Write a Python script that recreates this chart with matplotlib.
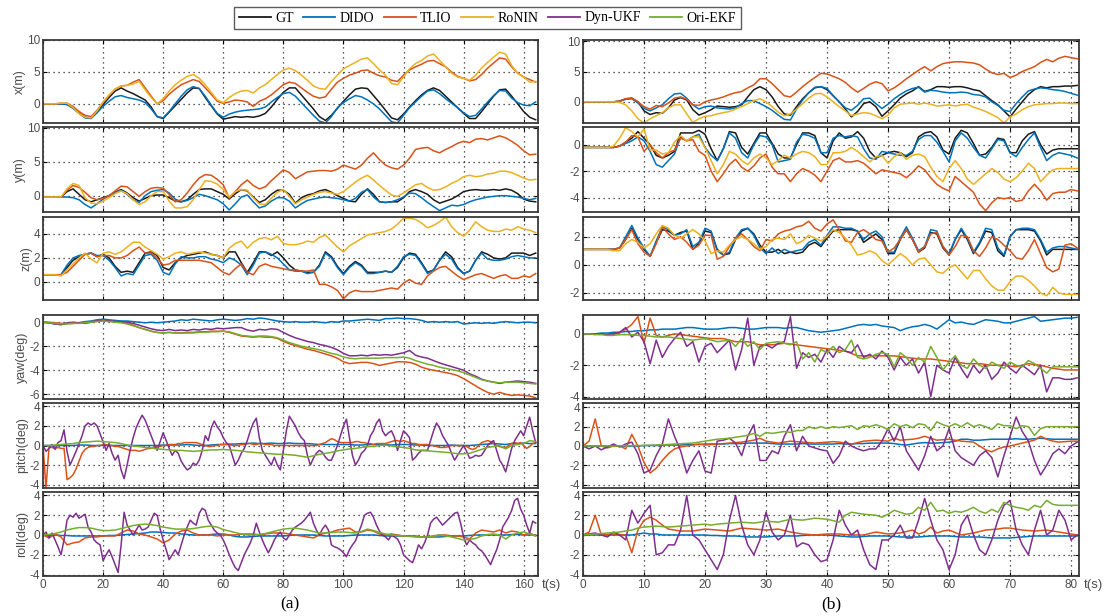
import numpy as np
import matplotlib
matplotlib.use("Agg")
import matplotlib.pyplot as plt
from matplotlib.lines import Line2D

# sampling step (s) of the arrays below
STEP_A = 2     # sequence (a), smooth curves
STEP_A1 = 1    # sequence (a), noisy curves
STEP_B = 1     # sequence (b)

# ---------------- sequence (a) : positions ----------------
xa_gt = [0, 0, 0, 0, -0.1, -0.6, -1.4, -2.1, -2.2, -1.2,
         -0.1, 1.0, 2.0, 2.5, 2.0, 1.6, 1.1, 0.6, -0.5, -2.0,
         -2.3, -1.3, -0.3, 0.7, 1.7, 2.5, 2.4, 1.0, -0.3, -1.6,
         -2.4, -2.2, -2.0, -2.1, -2.0, -2.1, -1.9, -1.5, -0.5, 0.7,
         1.8, 2.5, 2.5, 1.4, 0.3, -0.8, -2.0, -2.6, -1.8, -0.7,
         0.4, 1.4, 2.3, 2.5, 2.4, 1.3, 0.2, -1.0, -2.2, -2.5,
         -1.6, -0.5, 0.5, 1.4, 2.1, 2.5, 2.1, 1.2, 0.3, -0.6,
         -1.5, -2.3, -2.3, -1.2, 0.0, 1.2, 2.2, 2.3, 1.2, 0.0,
         -1.2, -2.1, -2.5]
xa_dido = [0, 0, 0, 0, -0.1, -0.7, -1.5, -2.2, -2.3, -1.4,
           -0.4, 0.4, 1.1, 1.3, 1.0, 0.8, 0.6, 0.2, -0.8, -2.0,
           -2.2, -1.2, 0.0, 1.2, 2.2, 2.7, 2.4, 1.2, -0.2, -1.5,
           -2.1, -1.6, -1.3, -1.1, -1.0, -0.9, -0.8, -0.5, 0.3, 1.0,
           1.6, 1.8, 1.2, 0.2, -0.8, -1.8, -2.7, -3.0, -2.0, -0.6,
           0.2, 0.8, 1.3, 1.1, 0.6, 0.0, -0.8, -1.8, -2.8, -3.0,
           -1.8, -0.6, 0.3, 1.2, 2.0, 2.2, 1.6, 0.8, 0.1, -0.6,
           -1.4, -2.0, -1.8, -0.8, 0.3, 1.3, 2.1, 2.0, 0.9, 0.2,
           -0.2, -0.3, 0.3]
xa_tlio = [0, 0, 0, 0.1, 0.1, -0.4, -1.2, -1.8, -2.0, -1.0,
           0.2, 1.3, 2.3, 2.8, 2.9, 3.4, 3.8, 2.5, 1.2, 0.0,
           0.5, 1.5, 2.3, 3.0, 3.4, 3.8, 3.5, 2.5, 1.5, 0.4,
           0.1, 0.3, 0.6, 0.5, 0.3, -0.4, 0.4, 0.8, 1.4, 2.2,
           3.0, 3.4, 3.2, 2.5, 1.8, 1.2, 0.9, 1.1, 2.3, 3.4,
           4.0, 4.5, 4.8, 5.2, 5.3, 4.8, 4.4, 4.2, 3.7, 3.5,
           4.5, 5.3, 5.8, 6.2, 6.7, 6.8, 6.3, 5.8, 5.0, 4.3,
           4.0, 3.6, 3.8, 4.6, 5.6, 6.4, 7.2, 7.0, 5.8, 4.8,
           4.2, 3.8, 3.4]
xa_ronin = [0, 0, 0, 0.1, 0.1, -0.6, -1.5, -2.1, -2.2, -1.1,
            0.3, 1.4, 2.3, 2.8, 2.9, 3.1, 3.5, 2.2, 1.0, 0.0,
            0.8, 2.0, 3.0, 3.7, 4.3, 4.6, 4.0, 3.0, 1.8, 0.6,
            0.2, 1.0, 1.6, 2.0, 2.1, 1.7, 2.5, 3.0, 3.8, 4.6,
            5.3, 5.6, 5.2, 4.5, 3.7, 2.8, 2.4, 2.3, 3.5, 4.5,
            5.5, 6.0, 6.5, 7.0, 7.2, 6.3, 5.3, 4.5, 3.2, 3.0,
            4.2, 5.5, 6.3, 6.8, 7.5, 7.8, 6.8, 5.8, 4.8, 4.2,
            4.0, 3.7, 4.5, 5.6, 6.5, 7.3, 8.1, 7.8, 6.0, 4.8,
            4.2, 3.4, 3.5]

ya_gt = [-0.2, -0.2, -0.2, -0.2, 0.6, 1.0, 0.2, -0.6, -0.9, -0.6,
         -0.3, 0.0, 0.5, 0.9, 0.4, -0.3, -0.8, -0.4, 0.0, 0.1,
         0.1, -0.3, -0.8, -0.9, -0.6, 0.2, 0.9, 1.0, 1.0, 0.6,
         0.2, -0.5, 0.3, 0.9, 0.7, -0.2, -1.0, -0.6, 0.2, 0.8,
         0.8, 0.2, -1.1, -0.3, 0.1, 0.3, 0.7, 0.9, 0.5, 0.0,
         -0.4, -0.8, -0.9, 0.2, 1.0, 0.2, -0.9, -1.0, -0.9, -0.9,
         -0.3, 0.6, 0.9, 0.6, 0.2, -0.6, -1.1, -0.8, -0.5, 0.0,
         0.6, 0.8, 0.9, 0.8, 0.8, 0.9, 0.8, 1.0, 0.8, 0.3,
         -0.5, -0.8, -0.9]
ya_dido = [-0.2, -0.2, -0.2, -0.2, -0.2, -0.3, -0.6, -1.3, -1.8, -1.2,
           -0.5, 0.0, 0.5, 0.8, 0.2, -0.6, -1.0, 0.0, 0.6, 0.8,
           0.9, 0.4, -0.5, -0.9, -0.7, -0.3, 0.2, 0.0, -0.3, -0.6,
           -1.2, -2.1, -1.2, -0.2, 0.1, -0.9, -1.8, -1.5, -0.8, -0.3,
           -0.3, -0.8, -1.8, -1.2, -0.7, -0.5, -0.3, -0.2, -0.3, -0.4,
           -0.6, -0.8, -0.4, 0.5, 0.9, -0.2, -0.9, -1.0, -0.9, -0.6,
           -0.2, 0.4, 0.3, -0.3, -1.0, -1.6, -2.2, -1.8, -1.4, -1.5,
           -1.3, -0.9, -0.6, -0.4, -0.2, -0.1, 0.0, 0.0, -0.1, -0.2,
           -0.4, -0.6, -0.4]
ya_tlio = [-0.2, -0.2, -0.2, -0.2, 0.8, 1.5, 1.2, 0.5, -0.3, -0.6,
           -0.4, 0.0, 0.7, 1.4, 1.3, 0.6, -0.1, 0.6, 1.1, 1.2,
           1.1, 0.2, -0.9, -0.6, 0.4, 1.6, 2.6, 3.1, 3.0, 2.4,
           1.6, -0.4, 0.6, 1.6, 2.3, 1.5, 1.0, 1.3, 2.2, 3.0,
           3.8, 3.4, 2.5, 3.0, 3.5, 3.6, 3.7, 3.7, 3.6, 3.9,
           4.5, 4.2, 3.9, 4.5, 5.5, 6.3, 5.3, 4.5, 4.1, 3.9,
           4.5, 5.5, 6.8, 7.0, 7.1, 6.6, 6.3, 6.8, 7.2, 7.7,
           8.0, 7.8, 8.3, 8.4, 8.2, 8.5, 8.8, 8.5, 8.0, 7.4,
           6.6, 6.0, 6.1]
ya_ronin = [-0.2, -0.2, -0.2, -0.2, 1.0, 1.8, 1.5, -0.3, -1.1, -1.2,
            -0.8, -0.3, 0.3, 0.7, 0.3, -0.6, -1.3, -0.9, 0.0, 0.6,
            0.6, -0.8, -1.8, -1.8, -1.6, -0.6, 0.9, 2.2, 2.1, 1.7,
            0.9, -0.2, 0.6, 0.9, 0.8, -0.3, -1.2, -1.3, -0.4, 0.5,
            0.9, -0.1, -1.2, -0.6, -0.2, 0.2, 0.5, 0.6, 0.4, 0.2,
            0.6, 1.3, 2.0, 2.6, 3.0, 2.3, 1.5, 0.8, 0.1, -0.1,
            0.4, 1.0, 1.6, 1.8, 1.2, 0.8, 0.9, 1.3, 1.8, 2.2,
            2.8, 3.0, 2.8, 2.9, 3.2, 3.3, 3.6, 3.6, 3.4, 3.0,
            2.6, 2.3, 2.4]

za_gt = [0.6, 0.6, 0.6, 0.6, 1.2, 1.8, 2.1, 2.3, 2.4, 2.1,
         2.3, 2.0, 1.3, 0.8, 0.9, 0.8, 1.6, 2.4, 2.5, 2.2,
         1.2, 1.0, 1.6, 2.0, 2.2, 2.3, 2.4, 2.5, 2.3, 2.2,
         2.0, 2.5, 2.5, 1.6, 0.8, 1.6, 2.5, 2.5, 2.2, 2.5,
         2.0, 1.4, 1.0, 0.9, 0.8, 0.8, 1.4, 2.5, 2.1, 1.3,
         0.7, 1.3, 1.7, 1.4, 0.8, 0.8, 0.8, 0.9, 0.8, 1.2,
         2.0, 2.4, 2.3, 1.6, 0.8, 1.0, 1.8, 2.5, 2.1, 1.2,
         0.7, 0.9, 1.8, 2.5, 2.3, 2.0, 1.9, 2.0, 2.4, 2.4,
         2.4, 2.2, 2.4]
za_dido = [0.6, 0.6, 0.6, 0.6, 1.4, 2.0, 2.2, 2.3, 2.4, 2.2,
           2.2, 1.8, 1.2, 0.5, 0.7, 0.6, 1.4, 2.2, 2.3, 1.8,
           0.8, 0.6, 1.5, 2.1, 2.0, 2.0, 2.1, 2.1, 1.9, 1.8,
           1.6, 2.0, 1.8, 1.4, 0.6, 1.4, 2.4, 2.5, 2.3, 2.0,
           1.5, 1.0, 0.9, 0.9, 0.7, 0.8, 1.3, 2.4, 2.0, 1.2,
           0.6, 1.2, 1.6, 1.3, 0.7, 0.7, 0.8, 0.9, 0.8, 1.3,
           2.1, 2.3, 2.2, 1.5, 0.7, 1.0, 1.8, 2.3, 1.9, 1.1,
           0.7, 0.9, 1.8, 2.4, 1.9, 1.8, 1.8, 1.9, 2.1, 2.2,
           2.1, 2.0, 2.0]
za_tlio = [0.6, 0.6, 0.6, 0.6, 0.8, 1.3, 1.8, 2.3, 2.4, 2.1,
           2.2, 2.2, 2.0, 2.0, 2.2, 2.6, 2.9, 2.4, 2.4, 2.0,
           1.4, 1.5, 1.8, 1.8, 1.8, 1.8, 1.8, 1.7, 1.6, 1.2,
           0.8, 0.6, 1.1, 1.5, 0.8, 0.6, 1.3, 1.5, 1.3, 1.2,
           1.1, 1.0, 1.0, 0.9, 0.9, 1.0, -0.2, -0.2, -0.4, -0.7,
           -1.4, -0.9, -0.7, -0.8, -0.8, -0.8, -0.7, -0.6, -0.5, -0.6,
           -0.1, 0.2, -0.1, -0.2, 0.5, 0.9, 1.2, 1.3, 0.9, 0.5,
           0.2, 0.4, 0.6, 0.7, 0.5, 0.3, 0.5, 0.6, 0.3, 0.3,
           0.5, 0.4, 0.7]
za_ronin = [0.6, 0.6, 0.6, 0.5, 1.0, 1.5, 2.0, 2.4, 1.9, 1.6,
            2.4, 2.5, 2.3, 2.5, 2.9, 3.3, 3.3, 2.9, 2.6, 2.3,
            1.9, 2.1, 2.4, 2.5, 2.3, 2.4, 2.5, 2.4, 2.3, 2.2,
            2.0, 2.8, 3.2, 3.4, 2.8, 3.3, 3.6, 3.7, 3.5, 3.8,
            3.2, 3.1, 3.1, 3.2, 3.4, 3.3, 3.7, 3.9, 3.4, 2.9,
            2.5, 3.0, 3.3, 3.6, 3.9, 4.0, 4.1, 4.2, 4.4, 4.8,
            5.3, 5.3, 5.2, 4.9, 4.5, 4.7, 5.0, 5.4, 4.6, 4.1,
            3.8, 4.3, 5.0, 4.6, 4.3, 4.2, 4.2, 4.4, 4.3, 4.6,
            4.4, 4.3, 4.1]

# ---------------- sequence (a) : orientation ----------------
yaw_a_dido = [0.0, -0.05, -0.15, -0.2, -0.05, 0.0, -0.05, 0.05, 0.1, 0.2,
              0.25, 0.2, 0.15, 0.1, 0.1, 0.05, 0.0, -0.05, 0.0, -0.05,
              0.0, 0.05, 0.1, 0.2, 0.15, 0.25, 0.2, 0.15, 0.1, 0.2,
              0.25, 0.2, 0.15, 0.2, 0.3, 0.25, 0.35, 0.3, 0.2, 0.1,
              0.05, 0.0, 0.05, 0.0, 0.0, 0.05, 0.0, -0.05, 0.05, 0.0,
              0.1, 0.1, 0.15, 0.2, 0.25, 0.2, 0.15, 0.3, 0.3, 0.35,
              0.3, 0.3, 0.25, 0.15, 0.0, 0.05, 0.0, 0.05, 0.0, 0.05,
              -0.15, -0.1, -0.05, -0.1, -0.05, -0.1, 0.0, 0.05, 0.0, -0.05,
              0.0, 0.0, -0.05]
yaw_a_tlio = [0.0, 0.0, -0.05, -0.1, -0.1, -0.05, -0.05, 0.0, 0.05, 0.1,
              0.15, 0.1, 0.05, 0.0, -0.1, -0.25, -0.45, -0.6, -0.75, -0.85,
              -0.9, -0.85, -0.9, -0.9, -0.85, -0.85, -0.8, -0.8, -0.75, -0.75,
              -0.75, -0.85, -1.0, -1.15, -1.2, -1.25, -1.2, -1.25, -1.25, -1.35,
              -1.6, -1.8, -1.95, -2.1, -2.25, -2.35, -2.5, -2.65, -2.8, -3.0,
              -3.3, -3.45, -3.4, -3.35, -3.35, -3.45, -3.6, -3.5, -3.4, -3.3,
              -3.3, -3.35, -3.5, -3.75, -3.9, -4.0, -4.1, -4.2, -4.3, -4.45,
              -4.7, -5.0, -5.3, -5.6, -5.85, -6.0, -5.85, -6.0, -6.1, -6.05,
              -6.1, -6.15, -6.3]
yaw_a_ukf = [0.0, -0.05, -0.15, -0.2, -0.1, -0.1, -0.05, -0.1, 0.0, 0.1,
             0.15, 0.1, 0.05, 0.05, 0.0, -0.1, -0.25, -0.4, -0.55, -0.65,
             -0.7, -0.6, -0.7, -0.65, -0.7, -0.6, -0.65, -0.55, -0.6, -0.5,
             -0.55, -0.5, -0.45, -0.45, -0.65, -0.75, -0.6, -0.65, -0.55, -0.6,
             -0.85, -1.1, -1.3, -1.45, -1.6, -1.7, -1.85, -1.95, -2.1, -2.3,
             -2.6, -2.8, -2.8, -2.75, -2.8, -2.7, -2.75, -2.7, -2.75, -2.65,
             -2.55, -2.35, -2.75, -2.9, -3.0, -3.2, -3.4, -3.55, -3.7, -3.85,
             -4.0, -4.3, -4.5, -4.75, -4.9, -5.0, -5.1, -5.0, -4.95, -4.9,
             -4.95, -5.0, -5.1]
yaw_a_ekf = [0.0, -0.05, -0.1, -0.15, -0.15, -0.1, -0.1, -0.05, 0.0, 0.05,
             0.1, 0.05, 0.0, -0.05, -0.15, -0.3, -0.45, -0.6, -0.75, -0.85,
             -0.9, -0.85, -0.9, -0.9, -0.9, -0.9, -0.85, -0.85, -0.8, -0.8,
             -0.75, -0.8, -0.95, -1.1, -1.15, -1.2, -1.15, -1.15, -1.2, -1.3,
             -1.5, -1.7, -1.85, -2.0, -2.1, -2.2, -2.3, -2.45, -2.6, -2.7,
             -2.9, -3.0, -3.05, -3.0, -3.0, -3.0, -3.0, -2.95, -2.95, -2.95,
             -2.9, -3.0, -3.2, -3.35, -3.5, -3.6, -3.75, -3.85, -3.95, -4.05,
             -4.2, -4.4, -4.6, -4.8, -4.9, -5.0, -5.05, -5.0, -5.0, -5.0,
             -5.05, -5.1, -5.15]

pitch_a_dido = [0.0, 0.0, 0.0, 0.0, 0.0, 0.0, 0.05, 0.05, 0.0, 0.0,
                0.0, 0.0, 0.0, 0.0, 0.0, 0.0, 0.0, 0.0, 0.0, 0.0,
                0.05, 0.05, 0.05, 0.05, 0.1, 0.05, 0.0, 0.0, 0.05, 0.1,
                0.1, 0.15, 0.15, 0.2, 0.2, 0.25, 0.2, 0.2, 0.25, 0.2,
                0.2, 0.25, 0.2, 0.2, 0.2, 0.15, 0.1, 0.1, 0.1, 0.1,
                0.1, 0.1, 0.05, 0.05, 0.1, 0.1, 0.1, 0.1, 0.05, 0.1,
                0.1, 0.1, 0.05, 0.05, 0.0, 0.0, 0.0, 0.0, 0.05, 0.0,
                0.0, 0.0, 0.05, 0.1, 0.15, 0.2, 0.15, 0.1, 0.2, 0.2,
                0.25, 0.2, 0.2]
pitch_a_tlio = [0.0, -4.3, -0.2, -0.2, -0.3, -0.2, -0.3, -0.3, -3.5, -3.3,
                -3.0, -2.4, -1.6, -0.8, -0.4, -0.2, -0.1, -0.1, 0.0, 0.0,
                0.1, 0.1, 0.0, 0.0, -0.1, -0.1, -0.2, -0.3, -0.4, -0.5,
                -0.5, -0.5, -0.6, -0.5, -0.4, -0.3, -0.3, -0.2, -0.1, -0.1,
                0.0, 0.0, 0.1, 0.1, 0.1, 0.2, 0.2, 0.3, 0.3, 0.3,
                0.3, 0.3, 0.2, 0.1, 0.0, -0.1, -0.1, 0.0, 0.0, 0.1,
                0.1, 0.1, 0.1, 0.0, 0.0, 0.0, 0.1, 0.1, 0.2, 0.2,
                0.1, 0.1, 0.2, 0.2, 0.1, 0.1, 0.1, 0.0, 0.0, 0.0,
                0.0, 0.0, 0.0, 0.0, 0.0, 0.0, 0.0, 0.0, 0.0, 0.0,
                0.0, 0.0, 0.1, 0.2, 0.3, 0.5, 0.7, 0.6, 0.4, 0.3,
                0.3, 0.3, 0.3, 0.3, 0.4, 0.4, 0.3, 0.3, 0.2, 0.2,
                0.1, 0.2, 0.2, 0.2, 0.2, 0.3, 0.4, 0.5, 0.5, 0.4,
                0.5, 0.4, 0.3, 0.2, 0.2, 0.1, 0.1, 0.1, 0.1, 0.0,
                0.0, -0.1, -0.2, -0.2, -0.2, -0.1, 0.0, 0.0, 0.0, 0.0,
                0.0, -0.1, -0.3, -0.4, -0.3, 0.0, 0.3, 0.4, 0.5, 0.4,
                0.2, 0.0, -0.1, -0.2, -0.2, 0.0, 0.2, 0.3, 0.2, 0.3,
                0.0, -0.3, -0.1, 0.2, 0.3]
pitch_a_ukf = [0.0, -0.6, -0.3, 0.1, -0.4, 0.3, 0.5, 1.6, -0.6, -2.0,
               -1.3, -0.6, 0.2, 1.0, 2.0, 2.3, 2.1, 2.3, 2.0, 1.2,
               0.4, -0.5, 0.2, -0.8, -1.5, -1.0, -2.5, -3.4, -2.0, -0.5,
               0.8, 1.8, 2.5, 3.1, 2.6, 1.8, 1.0, 0.2, -0.5, 0.4,
               1.3, 0.5, -0.3, -1.0, -0.5, -0.8, -1.6, -2.1, -2.5, -2.3,
               -1.8, -2.0, -1.5, -0.5, 1.0, 0.5, 1.8, 2.5, 1.9, 1.5,
               0.8, 0.3, 0.0, -1.0, -2.0, -1.5, -0.8, -0.3, 0.5, 1.5,
               2.3, 2.8, 0.8, -0.5, -1.0, -1.5, -2.0, -1.2, -2.0, -2.5,
               -0.5, 1.5, 3.0, 2.5, 2.0, 1.3, 0.8, 0.5, -1.0, -2.0,
               -1.3, -0.8, -0.5, -0.7, -1.2, -1.5, -1.5, -0.8, 0.0, 1.0,
               2.0, 2.7, 0.8, -1.0, -2.0, -1.5, -0.8, -0.5, 0.0, 1.0,
               1.5, 2.3, 2.7, 1.5, 1.0, 1.3, 1.5, 0.8, -0.5, 0.5,
               1.5, 1.2, 0.8, -1.5, -1.2, -0.8, -0.5, -0.5, -0.5, 0.5,
               1.5, 2.3, 1.8, 1.0, 0.5, 0.0, -0.8, -1.5, -1.0, -0.5,
               0.0, -0.6, -1.3, -1.2, -1.0, -1.1, -1.0, -0.5, 0.0, 0.3,
               0.5, -0.5, -1.5, -2.0, -2.7, -1.5, -0.3, 0.5, 1.0, 1.5,
               1.0, 2.0, 2.9, 1.5, 0.3]
pitch_a_ekf = [0.0, 0.0, 0.05, 0.1, 0.15, 0.2, 0.3, 0.35, 0.4, 0.45,
               0.4, 0.35, 0.3, 0.2, 0.05, -0.05, -0.1, -0.2, -0.25, -0.35,
               -0.4, -0.45, -0.5, -0.5, -0.55, -0.6, -0.55, -0.5, -0.45, -0.45,
               -0.4, -0.45, -0.5, -0.55, -0.65, -0.7, -0.75, -0.8, -0.85, -0.9,
               -0.9, -0.95, -1.0, -1.1, -1.2, -1.05, -0.9, -0.8, -0.7, -0.55,
               -0.45, -0.35, -0.3, -0.2, -0.1, -0.1, 0.0, 0.05, -0.05, -0.15,
               -0.2, -0.3, -0.45, -0.5, -0.55, -0.6, -0.65, -0.7, -0.75, -0.85,
               -0.85, -0.8, -0.6, -0.4, -0.2, -0.1, 0.0, -0.35, 0.0, 0.1,
               0.2, 0.5, 0.4]

roll_a_dido = [0.0, 0.0, 0.0, -0.05, -0.05, -0.1, -0.1, -0.1, -0.1, -0.1,
               -0.1, -0.05, -0.05, 0.0, 0.05, 0.1, 0.15, 0.2, 0.3, 0.3,
               0.25, 0.2, 0.2, 0.1, 0.05, 0.0, 0.0, 0.0, 0.05, 0.1,
               0.1, 0.0, -0.15, -0.2, -0.2, -0.15, -0.1, -0.1, -0.1, -0.1,
               -0.1, -0.05, 0.0, 0.0, 0.0, 0.0, -0.05, -0.1, -0.1, -0.1,
               -0.1, -0.05, 0.0, 0.0, 0.0, 0.0, -0.05, -0.1, -0.1, -0.1,
               -0.1, -0.1, -0.15, -0.2, -0.2, -0.2, -0.2, -0.15, -0.1, -0.1,
               -0.1, -0.05, 0.0, 0.0, 0.0, 0.0, 0.0, 0.0, 0.05, 0.05,
               0.0, 0.0, 0.0]
roll_a_tlio = [0.0, -0.3, 0.1, -0.2, -1.0, -0.8, -0.7, -0.3, -0.2, -0.2,
               -0.1, -0.1, -0.1, 0.2, 0.5, 0.4, 0.1, 0.0, -0.2, -0.4,
               -0.8, -0.5, 0.1, 0.4, 0.5, 0.2, 0.0, 0.0, 0.0, -0.1,
               0.0, 0.0, 0.0, 0.1, 0.1, 0.1, 0.0, 0.1, 0.2, 0.2,
               0.2, 0.1, 0.0, -0.1, -0.2, -0.3, 0.0, 0.2, 0.3, 0.5,
               0.6, 0.7, 0.3, 0.3, 0.5, 0.4, 0.1, 0.0, 0.1, 0.0,
               -0.1, -0.1, -0.1, -0.2, -0.2, -0.1, 0.0, 0.0, -0.1, -0.1,
               -0.2, -0.4, 0.2, 0.5, 0.4, 0.3, 0.5, 0.2, 0.4, 0.3,
               0.0, 0.2, -0.1]
roll_a_ukf = [0.0, 0.3, -0.3, 0.2, -0.5, -1.2, -2.0, -0.5, 1.5, 2.0,
              1.8, 2.2, 1.7, 1.9, 2.1, 0.8, 0.3, -0.5, -0.8, -1.0,
              -2.6, -2.0, -1.5, -2.2, -3.0, -3.8, -1.0, 2.3, 1.0, 0.5,
              0.0, 0.5, 1.0, 0.5, 0.6, 0.8, 1.5, 2.2, 2.0, 0.6,
              -0.5, -1.5, -2.5, -2.0, -1.5, -2.0, -1.0, 0.0, 0.8, 1.5,
              1.2, 1.0, 2.2, 2.7, 2.5, 1.5, 1.0, 0.5, 0.2, 0.0,
              -0.5, -1.2, -2.0, -2.7, -3.3, -3.6, -2.8, -2.0, -1.4, -0.8,
              0.0, 1.2, 0.3, -0.5, -1.2, -1.8, -1.2, -0.5, 0.0, 0.3,
              -0.3, -0.5, 0.0, 0.5, 0.8, 1.0, 1.2, 1.5, 1.9, 2.3,
              1.2, 0.5, 0.0, 0.6, 1.0, 0.5, -1.0, -1.2, -1.3, -1.5,
              -1.8, -2.2, -1.5, -1.0, -0.6, 0.2, 1.0, 2.0, 2.2, 2.3,
              1.8, 1.0, 0.4, 0.0, -0.2, -0.5, 0.0, -0.2, -0.4, -1.0,
              -2.0, -2.3, -2.6, -2.8, -2.0, -1.0, -1.4, -0.8, 0.0, 1.2,
              1.6, 1.8, 1.4, 1.0, 1.3, 1.6, 1.9, 2.2, 2.3, 1.2,
              -0.2, -1.0, -0.5, -0.8, -1.0, -1.4, -1.6, -2.0, -2.5, -3.0,
              -2.2, -1.5, -0.5, 0.8, 1.3, 1.8, 2.5, 3.5, 3.7, 2.6,
              2.0, 1.0, 0.2, 1.4, 1.2]
roll_a_ekf = [0.0, 0.05, 0.15, 0.3, 0.5, 0.65, 0.75, 0.75, 0.7, 0.55,
              0.45, 0.45, 0.5, 0.65, 0.8, 0.95, 1.05, 1.1, 1.05, 0.95,
              0.8, 0.7, 0.6, 0.6, 0.6, 0.65, 0.75, 0.85, 0.9, 0.8,
              0.55, 0.4, 0.25, 0.1, 0.0, 0.0, 0.05, 0.15, 0.3, 0.45,
              0.6, 0.65, 0.7, 0.6, 0.5, 0.35, 0.2, 0.2, 0.25, 0.3,
              0.3, 0.25, 0.2, 0.35, 0.6, 0.45, 0.25, 0.1, 0.0, -0.05,
              -0.1, -0.15, -0.2, -0.2, -0.2, -0.1, 0.0, -0.1, -0.2, -0.35,
              -0.5, -0.45, -0.35, -0.1, 0.05, 0.1, 0.0, -0.4, 0.0, 0.2,
              0.3, 0.1, -0.1]

# ---------------- sequence (b) : positions ----------------
xb_gt = [0, 0, 0, 0, 0, 0, 0.1, 0.5, 0.6, 0.0,
         -1.5, -2.1, -1.8, -1.9, -1.0, 0.3, 0.7, 0.3, -1.3, -2.2,
         -1.8, -1.3, -0.7, -0.8, -0.9, -0.8, -0.5, 0.8, 2.0, 2.5,
         2.0, 0.8, -0.8, -2.0, -2.2, -0.8, 0.5, 1.5, 2.3, 2.5,
         2.0, 1.0, 0.0, -1.2, -2.5, -1.6, -0.3, 0.0, -0.8, -2.4,
         -1.5, -0.5, 0.6, 1.3, 1.8, 2.5, 1.7, 2.0, 2.5, 2.5,
         2.4, 2.5, 2.5, 2.3, 2.0, 1.8, 1.0, 0.2, -0.5, -1.5,
         -2.5, -1.2, 0.0, 1.2, 2.0, 2.5, 2.3, 2.5, 2.5, 2.6,
         2.6, 2.7]
xb_dido = [0, 0, 0, 0, 0, 0, 0.1, 0.4, 0.5, -0.2,
           -1.1, -1.5, -1.0, -0.5, 0.5, 1.3, 1.4, 0.6, -0.5, -1.2,
           -0.8, -0.7, -1.0, -1.1, -1.2, -1.0, -0.3, 0.2, 0.2, -0.3,
           -0.8, -1.4, -2.2, -2.9, -3.0, -1.2, 0.3, 1.5, 2.4, 2.5,
           2.2, 1.0, 0.0, -1.0, -1.4, -0.6, 0.5, 0.6, -0.3, -1.1,
           -0.4, 0.5, 1.2, 1.8, 2.2, 2.4, 1.6, 1.9, 1.8, 1.6,
           1.5, 1.5, 1.6, 1.5, 1.2, 1.1, 0.8, 0.0, -0.6, -1.4,
           -1.6, -0.3, 0.8, 1.8, 2.1, 2.3, 2.2, 2.0, 1.9, 1.7,
           1.4, 1.1]
xb_tlio = [0, 0, 0, 0, 0, 0, 0.1, 0.5, 0.6, 0.0,
           -0.8, -1.2, -0.6, -0.8, -0.2, 0.6, 0.8, 0.4, -0.5, -0.6,
           0.0, 0.3, 0.5, 0.8, 1.2, 1.5, 1.7, 2.3, 2.8, 3.8,
           3.8, 3.0, 2.0, 1.0, 0.8, 1.6, 2.5, 3.3, 4.0, 4.7,
           4.6, 4.2, 3.8, 3.2, 2.3, 1.6, 2.2, 2.9, 3.3, 3.0,
           1.8, 2.3, 3.0, 3.8, 4.5, 5.2, 5.8, 5.1, 5.8, 6.3,
           6.5, 6.6, 6.6, 6.5, 6.4, 6.1, 5.4, 4.8, 4.5, 4.7,
           4.0, 4.4, 5.0, 5.4, 5.8, 6.5, 7.0, 6.6, 7.2, 7.5,
           7.3, 7.1]
xb_ronin = [0, 0, 0, 0, 0, 0, -0.1, -0.5, -1.5, -2.8,
            -3.5, -2.8, -2.3, -1.8, -1.0, -0.5, -0.5, -2.0, -3.4, -2.8,
            -2.4, -2.3, -2.0, -1.8, -1.6, -1.2, -0.8, -0.3, 0.2, 0.5,
            0.0, -0.8, -1.7, -2.3, -2.0, -1.2, -0.3, 0.6, 1.3, 1.4,
            0.8, 0.0, -0.8, -1.5, -2.3, -2.0, -1.8, -1.9, -2.3, -2.8,
            -2.2, -1.0, -0.4, -0.3, -0.2, -0.4, -0.2, -0.4, -0.7, -0.6,
            -0.5, -0.7, -0.5, -0.4, -0.9, -1.2, -1.6, -2.1, -2.6, -3.5,
            -2.5, -2.0, -1.3, -0.8, -0.5, -0.4, -0.3, -0.3, -0.2, -0.2,
            -0.3, -0.3]

yb_gt = [-0.2, -0.2, -0.2, -0.2, -0.2, -0.2, -0.1, 0.2, 0.5, 1.0,
         0.5, 0.0, -0.8, -1.0, -0.8, -0.5, 0.9, 0.9, 0.9, 1.1,
         0.8, -0.3, -1.2, -0.3, 1.0, 0.9, -0.2, -0.7, 0.1, 0.9,
         0.9, 0.1, -0.7, -1.0, -1.0, 0.0, 0.9, 0.9, 0.7, -0.6,
         -1.0, 0.3, 0.9, 0.5, 0.6, 1.0, 0.5, -0.5, -1.0, -0.8,
         -0.6, -0.5, -0.6, -0.9, -0.6, 0.6, 0.9, 1.0, 0.6, -0.4,
         -0.7, 0.5, 1.1, 0.9, 0.1, -0.8, -0.7, -0.2, 0.5, 0.4,
         -0.6, -0.6, 0.3, 0.8, 1.0, 0.0, -0.7, -0.4, -0.3, -0.3,
         -0.3, -0.3]
yb_dido = [-0.2, -0.2, -0.2, -0.2, -0.2, -0.2, -0.1, 0.1, 0.3, 0.6,
           0.3, -0.5, -1.5, -1.7, -1.2, -0.7, 0.6, 0.3, 0.6, 0.8,
           -0.2, -0.8, -1.2, -0.3, 0.9, 0.5, -0.6, -1.0, 0.0, 0.7,
           0.6, 0.0, -1.3, -1.2, -1.1, 0.2, 0.8, 0.7, 0.5, -0.6,
           -0.6, 0.5, 0.7, 0.6, 0.7, 0.6, -0.3, -1.0, -1.1, -0.5,
           -0.6, -0.7, -0.8, -0.8, -0.5, 0.4, 0.7, 0.7, 0.2, -0.5,
           -1.3, 0.3, 0.9, 0.5, -0.2, -0.8, -1.0, -0.3, 0.4, 0.3,
           -0.6, -0.9, -0.2, 0.4, 0.9, -0.2, -1.2, -0.8, -0.6, -0.7,
           -0.8, -1.0]
yb_tlio = [-0.2, -0.2, -0.2, -0.2, -0.2, -0.2, -0.1, 0.2, 0.7, 0.6,
           -0.5, 0.0, -0.6, -1.0, -0.6, -0.4, 0.5, 0.3, 0.4, -0.5,
           -0.8, -2.0, -2.8, -2.2, -1.5, -1.1, -1.7, -2.0, -1.6, -1.0,
           -0.7, -1.7, -2.2, -2.2, -2.8, -2.2, -1.8, -2.0, -2.3, -2.8,
           -2.0, -1.2, -1.0, -1.3, -1.3, -1.2, -1.4, -1.8, -2.2, -1.9,
           -2.0, -2.1, -2.2, -2.5, -2.1, -1.6, -1.9, -2.5, -3.0, -3.3,
           -3.5, -2.4, -2.8, -3.2, -3.6, -4.5, -5.0, -4.4, -4.0, -4.1,
           -4.0, -4.3, -4.2, -3.5, -3.0, -3.5, -4.2, -3.7, -3.6, -3.6,
           -3.4, -3.5]
yb_ronin = [-0.2, -0.2, -0.2, -0.2, -0.2, -0.1, 0.5, 1.3, 1.0, 0.6,
            1.2, -0.4, -0.4, -0.7, -0.6, 0.2, 0.7, 0.3, 0.6, 0.6,
            -0.2, -1.2, -2.2, -1.5, -0.5, -0.7, -1.2, -1.5, -1.0, -0.7,
            -1.0, -1.5, -1.2, -0.8, -1.0, -0.7, -0.5, -0.6, -0.9, -1.5,
            -1.5, -0.6, -0.6, -0.5, -0.2, -0.5, -0.9, -1.3, -0.9, -0.8,
            -1.4, -0.9, -0.6, -1.1, -0.8, -0.7, -0.9, -1.7, -2.4, -2.8,
            -1.8, -1.2, -1.8, -2.6, -3.0, -2.6, -2.2, -1.8, -2.1, -2.6,
            -2.8, -2.5, -2.0, -1.4, -1.8, -2.8, -2.3, -1.9, -1.8, -1.8,
            -1.8, -1.8]

zb_gt = [1.1, 1.1, 1.1, 1.1, 1.1, 1.1, 1.2, 1.8, 2.6, 1.8,
         1.1, 0.6, 1.6, 2.5, 2.4, 2.1, 2.3, 2.4, 1.1, 1.5,
         2.4, 2.3, 1.1, 0.7, 0.8, 1.8, 2.4, 2.6, 2.2, 1.4,
         0.9, 0.9, 1.1, 0.8, 0.9, 0.8, 0.9, 1.4, 1.6, 1.3,
         1.9, 2.4, 2.5, 2.5, 2.5, 2.4, 1.6, 1.9, 2.2, 1.8,
         0.8, 0.8, 1.8, 2.5, 1.8, 0.9, 1.2, 2.3, 2.2, 1.2,
         0.7, 1.8, 2.5, 1.8, 0.8, 1.5, 2.4, 2.3, 1.0, 0.6,
         2.0, 2.5, 2.5, 2.5, 2.4, 1.7, 0.7, 1.1, 1.1, 1.1,
         1.1, 1.1]
zb_dido = [1.1, 1.1, 1.1, 1.1, 1.1, 1.1, 1.2, 2.0, 2.8, 1.9,
           1.2, 0.6, 1.7, 2.7, 2.5, 2.1, 2.2, 2.5, 1.3, 1.6,
           2.6, 2.4, 1.0, 0.7, 0.9, 1.9, 2.5, 2.6, 2.1, 1.2,
           0.8, 1.2, 0.8, 1.1, 0.9, 1.0, 1.1, 1.6, 1.8, 1.4,
           2.1, 2.7, 2.7, 2.6, 2.6, 2.4, 1.8, 2.2, 2.4, 2.0,
           0.9, 0.9, 1.9, 2.7, 1.9, 1.0, 1.3, 2.5, 2.4, 1.3,
           0.8, 1.8, 2.6, 1.9, 0.9, 1.6, 2.6, 2.5, 1.2, 0.7,
           2.0, 2.5, 2.6, 2.6, 2.5, 1.8, 0.9, 1.2, 1.3, 1.3,
           1.2, 1.1]
zb_tlio = [1.1, 1.1, 1.1, 1.1, 1.1, 1.1, 1.2, 1.8, 2.5, 1.5,
           0.9, 0.6, 1.5, 2.7, 2.2, 1.8, 2.0, 1.6, 1.1, 1.4,
           2.1, 2.1, 0.4, 0.6, 1.3, 1.9, 2.2, 1.8, 1.3, 1.0,
           1.8, 1.7, 2.2, 2.4, 2.5, 2.7, 2.8, 3.1, 2.6, 2.4,
           2.9, 3.2, 2.5, 1.7, 1.6, 2.3, 2.5, 2.2, 1.8, 1.7,
           0.9, 1.2, 1.8, 2.5, 1.8, 0.9, 1.3, 2.2, 2.3, 1.3,
           0.7, 1.3, 2.1, 2.0, 1.0, 0.6, 1.2, 2.0, 1.8, 1.4,
           1.0, 0.5, 0.4, 1.0, 1.8, 0.8, -0.2, -0.5, -0.3, 1.4,
           1.5, 1.2]
zb_ronin = [1.1, 1.1, 1.1, 1.1, 1.1, 1.0, 1.0, 1.5, 1.8, 1.6,
            1.2, 1.5, 2.2, 2.8, 2.6, 2.1, 1.9, 2.2, 2.5, 2.2,
            1.7, 0.8, 1.0, 0.9, 1.4, 1.8, 2.0, 1.8, 1.5, 1.1,
            1.3, 1.8, 1.9, 1.8, 2.2, 1.5, 1.7, 2.1, 1.9, 1.7,
            2.0, 2.5, 2.3, 1.9, 1.4, 0.7, 0.8, 1.0, 0.8, 0.3,
            0.0, 0.4, 0.8, 0.5, 0.0, 0.4, 0.5, 0.0, -0.5, -0.6,
            -0.2, 0.0, -0.5, -1.0, -0.4, -0.4, -1.0, -1.5, -1.8, -1.8,
            -1.2, -0.8, -0.8, -1.1, -1.5, -2.0, -2.2, -1.6, -2.0, -2.1,
            -2.1, -2.1]

# ---------------- sequence (b) : orientation ----------------
yaw_b_dido = [0.0, 0.0, 0.0, 0.05, 0.05, 0.1, 0.1, 0.15, 0.15, 0.2,
              0.2, 0.25, 0.25, 0.3, 0.3, 0.3, 0.35, 0.4, 0.4, 0.35,
              0.3, 0.3, 0.3, 0.35, 0.4, 0.4, 0.35, 0.3, 0.3, 0.35,
              0.4, 0.4, 0.4, 0.35, 0.4, 0.4, 0.3, 0.2, 0.15, 0.1,
              0.15, 0.2, 0.25, 0.35, 0.45, 0.55, 0.6, 0.55, 0.6, 0.5,
              0.45, 0.4, 0.2, 0.35, 0.45, 0.5, 0.6, 0.5, 0.3, 0.6,
              0.9, 0.7, 0.75, 0.65, 0.6, 0.75, 0.9, 0.85, 0.8, 0.7,
              0.7, 0.8, 0.9, 1.0, 1.1, 0.8, 0.85, 0.9, 0.95, 1.0,
              1.0, 1.05]
yaw_b_tlio = [0.0, 0.0, 0.0, 0.0, 0.0, 0.0, 0.05, 0.3, 0.6, 1.1,
              -0.6, 1.0, -0.1, -0.2, -0.1, 0.0, -0.05, -0.1, -0.15, -0.2,
              -0.25, -0.3, -0.3, -0.3, -0.4, -0.5, -0.5, -0.5, -0.6, -0.7,
              -0.7, -0.7, -0.65, -0.6, -0.65, -0.7, -0.75, -0.8, -0.85, -0.9,
              -0.95, -1.0, -1.05, -1.1, -1.25, -1.4, -1.4, -1.4, -1.4, -1.4,
              -1.4, -1.4, -1.45, -1.5, -1.55, -1.6, -1.6, -1.6, -1.65, -1.7,
              -1.75, -1.8, -1.85, -1.9, -1.9, -1.9, -1.95, -2.0, -2.0, -2.0,
              -2.05, -2.1, -2.0, -1.9, -1.95, -2.0, -2.1, -2.2, -2.25, -2.3,
              -2.3, -2.3]
yaw_b_ukf = [0.0, 0.0, 0.0, 0.0, -0.05, 0.0, 0.1, 0.4, -0.2, 0.1,
             -0.5, -1.9, -0.4, -1.5, -0.8, -0.3, 0.1, -0.8, -0.5, -1.8,
             -0.8, -0.6, -1.2, -0.8, -0.4, -2.3, -1.0, 1.0, -2.0, -0.8,
             -0.7, -0.9, -0.6, -0.5, 1.1, -2.2, -1.2, -1.5, -1.3, -1.8,
             -1.0, -1.5, -0.8, -1.1, -1.2, -0.7, -1.5, -1.3, -1.6, -1.1,
             -1.5, -2.3, -1.5, -2.0, -1.6, -2.5, -1.8, -4.0, -2.0, -2.3,
             -2.5, -1.5, -2.2, -2.8, -2.0, -2.5, -2.0, -2.9, -2.5, -1.8,
             -2.2, -2.5, -2.0, -2.3, -2.6, -2.0, -3.7, -2.8, -2.8, -2.9,
             -2.9, -2.8]
yaw_b_ekf = [0.0, 0.0, -0.05, -0.05, -0.1, -0.1, -0.05, -0.05, -0.05, -0.1,
             -0.1, -0.15, -0.2, -0.2, -0.2, -0.25, -0.3, -0.35, -0.4, -0.35,
             -0.3, -0.4, -0.5, -0.45, -0.4, -0.8, -0.3, -0.8, -0.5, -1.0,
             -0.6, -0.55, -0.5, -0.6, -0.7, -0.5, -1.6, -1.2, -1.8, -1.0,
             -1.2, -0.8, -1.2, -1.0, -0.4, -1.5, -1.6, -1.5, -1.3, -1.2,
             -1.3, -2.1, -1.2, -1.5, -2.0, -1.5, -1.8, -0.8, -1.5, -2.3,
             -1.8, -1.4, -2.0, -2.2, -1.6, -2.0, -2.2, -1.8, -2.0, -2.2,
             -1.8, -2.0, -2.1, -1.7, -1.9, -2.2, -2.5, -2.1, -2.1, -2.1,
             -2.1, -2.1]

pitch_b_dido = [0.0, 0.0, 0.0, 0.0, 0.0, 0.0, 0.0, 0.0, 0.0, 0.0,
                0.05, 0.05, 0.05, 0.1, 0.1, 0.1, 0.1, 0.15, 0.15, 0.15,
                0.2, 0.2, 0.2, 0.2, 0.25, 0.25, 0.25, 0.3, 0.3, 0.3,
                0.3, 0.25, 0.2, 0.2, 0.2, 0.2, 0.25, 0.2, 0.2, 0.2,
                0.2, 0.2, 0.25, 0.2, 0.2, 0.25, 0.25, 0.3, 0.3, 0.3,
                0.3, 0.25, 0.15, 0.1, 0.2, 0.3, 0.35, 0.3, 0.3, 0.35,
                0.4, 0.5, 0.7, 0.7, 0.6, 0.6, 0.65, 0.7, 0.7, 0.7,
                0.7, 0.75, 0.7, 0.7, 0.75, 0.8, 0.75, 0.7, 0.7, 0.7,
                0.7, 0.7]
pitch_b_tlio = [0.0, 0.5, 2.8, 0.0, -0.2, 0.0, 0.0, -0.3, 1.2, 0.0,
                -1.7, -2.8, -2.3, -1.5, -0.8, -0.3, -0.1, 0.0, 0.1, 0.2,
                0.1, 0.15, 0.2, 0.25, 0.3, 0.35, 0.4, 0.5, 0.6, 0.8,
                0.5, 0.4, 0.3, 0.4, 0.5, 0.45, 0.4, 0.35, 0.3, 0.35,
                0.4, 0.45, 0.4, 0.3, 0.2, 0.35, 0.5, 0.55, 0.6, 0.55,
                0.5, 0.8, 0.6, 0.65, 0.7, 0.8, 1.0, 0.8, 0.6, 0.65,
                0.7, 0.6, 0.5, 0.45, 0.4, 0.0, -0.4, -0.6, -0.3, -0.1,
                0.0, 0.15, 0.3, 0.45, 0.6, 1.0, 0.7, 0.5, 0.4, 0.45,
                0.5, 0.5]
pitch_b_ukf = [0.0, -0.3, 0.0, -0.4, -0.1, 0.2, -0.1, 0.2, 0.4, -0.8,
               -2.8, -2.5, -1.0, 0.2, 2.8, 1.0, -0.5, -2.8, -1.5, -0.5,
               -2.6, -2.8, 0.5, 0.6, 0.8, 0.3, -1.0, 1.0, 2.2, -1.5,
               -1.5, -0.5, -0.8, 1.0, 2.2, -0.5, 1.0, 0.0, -0.2, -0.4,
               -0.5, -1.8, -1.0, 0.5, 0.0, -0.3, -0.5, -0.3, -0.3, 0.5,
               1.8, 0.5, 2.0, -0.5, -1.5, -2.5, -1.0, 1.0, -0.5, 0.0,
               1.8, -0.5, -1.2, -1.6, -2.0, -1.0, -0.5, -1.2, -3.2, -1.0,
               1.0, 3.0, 1.5, 0.5, -1.5, -3.0, -2.0, -0.8, -0.3, -0.8,
               0.0, 0.4]
pitch_b_ekf = [0.0, 0.0, 0.0, 0.0, 0.0, 0.0, 0.02, 0.03, 0.04, 0.05,
               0.05, 0.08, 0.1, 0.13, 0.16, 0.2, 0.23, 0.27, 0.3, 0.4,
               0.5, 0.6, 0.7, 0.75, 0.8, 0.9, 1.0, 1.1, 1.3, 1.0,
               1.4, 1.3, 1.4, 1.5, 1.4, 1.6, 1.6, 2.0, 1.8, 2.0,
               1.8, 2.0, 1.9, 2.0, 2.1, 1.7, 2.1, 2.0, 2.2, 2.0,
               1.7, 2.3, 2.0, 2.2, 1.9, 2.3, 2.2, 1.6, 2.5, 2.2,
               2.0, 2.3, 2.0, 2.4, 2.0, 2.2, 2.0, 1.7, 2.3, 2.1,
               2.1, 1.8, 2.1, 2.0, 1.1, 1.8, 2.0, 2.0, 2.0, 2.0,
               2.0, 2.0]

roll_b_dido = [0.0, 0.0, 0.0, 0.0, 0.0, 0.0, 0.0, 0.0, 0.0, 0.1,
               0.2, 0.1, 0.1, 0.0, 0.0, 0.0, 0.0, 0.0, 0.0, 0.0,
               0.0, -0.05, -0.05, -0.1, -0.1, -0.1, -0.15, -0.2, -0.2, -0.2,
               -0.2, -0.15, -0.1, -0.1, -0.1, -0.1, -0.05, 0.0, 0.0, 0.0,
               0.0, -0.05, -0.1, -0.15, -0.2, -0.2, -0.15, -0.1, -0.1, -0.1,
               -0.1, -0.15, -0.2, -0.2, -0.2, -0.2, -0.15, -0.1, -0.1, -0.1,
               -0.1, -0.15, -0.2, -0.2, -0.2, -0.2, -0.25, -0.3, -0.3, -0.3,
               -0.3, -0.25, -0.2, -0.15, -0.1, -0.1, -0.1, -0.1, -0.1, -0.1,
               -0.1, -0.1]
roll_b_tlio = [0.0, 0.3, 2.0, 0.0, 0.05, 0.1, 0.05, 0.0, -1.8, 0.5,
               1.5, 1.8, 1.5, 1.0, 0.6, 0.5, 0.4, 0.4, 0.4, 0.5,
               0.6, 0.55, 0.5, 0.45, 0.4, 0.55, 0.7, 0.65, 0.6, 0.55,
               0.5, 0.55, 0.6, 0.45, 0.3, 0.2, 0.1, 0.05, 0.0, 0.05,
               0.1, 0.1, 0.1, 0.05, 0.0, 0.0, 0.0, 0.15, 0.3, 0.2,
               0.1, 0.15, 0.2, 0.35, 0.5, 0.1, 0.3, 0.8, 0.2, 0.4,
               0.5, 0.25, 0.0, 0.1, 0.2, 0.35, 0.5, 0.55, 0.6, 0.7,
               0.7, 0.6, 0.5, 0.45, 0.4, 0.45, 0.5, 0.4, 0.3, 0.2,
               0.1, 0.0]
roll_b_ukf = [0.0, 0.1, 0.2, 0.0, -0.2, 0.3, 0.0, -0.5, 2.5, 1.2,
              2.2, 3.0, -2.0, -1.8, -1.0, -1.0, 0.5, 4.0, 0.0, -0.5,
              -1.5, -2.5, -3.5, -2.0, 1.5, 4.0, 1.0, -1.0, -2.0, -0.5,
              2.3, 0.3, -0.5, 0.0, 2.0, -1.2, -0.8, -1.0, -2.0, -2.7,
              -2.5, -0.5, 2.5, 1.0, 0.0, 0.5, -1.5, -3.0, -3.5, -0.5,
              -0.5, 0.0, 1.0, -0.3, -0.3, 1.5, 3.7, 1.5, -0.5, -1.5,
              -3.5, -2.0, 1.0, 2.0, 0.0, -1.5, -2.0, -0.5, 1.5, 3.0,
              3.5, 0.5, -1.0, -2.0, 0.5, 2.5, 0.0, 0.5, 2.5, 1.5,
              -0.5, 0.0]
roll_b_ekf = [0.0, 0.05, 0.1, 0.15, 0.2, 0.25, 0.3, 0.4, 0.5, 0.7,
              0.8, 0.85, 0.9, 0.85, 0.8, 0.85, 0.9, 0.95, 1.0, 1.05,
              1.1, 1.0, 1.1, 1.15, 1.2, 1.25, 1.3, 1.25, 1.2, 1.3,
              1.4, 1.35, 1.3, 1.45, 1.6, 1.55, 1.5, 1.6, 1.7, 1.65,
              1.6, 1.45, 1.3, 2.0, 2.3, 2.2, 2.1, 2.05, 2.0, 1.8,
              2.1, 2.5, 2.3, 2.1, 2.2, 2.8, 2.5, 3.3, 2.4, 2.5,
              2.2, 2.4, 2.3, 2.5, 2.8, 2.4, 2.2, 2.6, 2.3, 3.3,
              3.0, 2.8, 2.7, 2.5, 3.0, 2.8, 3.5, 3.1, 3.0, 3.0,
              3.0, 3.0]

# ---------------- styling ----------------
C_GT = "#1a1a1a"
C_DIDO = "#0072BD"
C_TLIO = "#D95319"
C_RONIN = "#EDB120"
C_UKF = "#7E2F8E"
C_EKF = "#77AC30"
TXT = "#4d4d4d"

plt.rcParams["font.family"] = "Liberation Sans"
plt.rcParams["axes.unicode_minus"] = False

W, H = 1106, 616
fig = plt.figure(figsize=(W / 100, H / 100), dpi=100)

rows_px = [(40, 123), (127, 212), (217, 300), (315, 399), (403, 488), (492, 576)]
cols_px = [(43, 537.5), (583, 1079)]

A, A1, B = STEP_A, STEP_A1, STEP_B
panels = [
    # (column, row, ylabel, ylim, yticks, series)
    (0, 0, "x(m)", (-3, 10), [0, 5, 10],
     [(xa_gt, A, C_GT), (xa_dido, A, C_DIDO), (xa_tlio, A, C_TLIO), (xa_ronin, A, C_RONIN)]),
    (0, 1, "y(m)", (-2.4, 10.1), [0, 5, 10],
     [(ya_gt, A, C_GT), (ya_dido, A, C_DIDO), (ya_tlio, A, C_TLIO), (ya_ronin, A, C_RONIN)]),
    (0, 2, "z(m)", (-1.5, 5.4), [0, 2, 4],
     [(za_gt, A, C_GT), (za_dido, A, C_DIDO), (za_tlio, A, C_TLIO), (za_ronin, A, C_RONIN)]),
    (0, 3, "yaw(deg)", (-6.4, 0.6), [-6, -4, -2, 0],
     [(yaw_a_dido, A, C_DIDO), (yaw_a_tlio, A, C_TLIO), (yaw_a_ukf, A, C_UKF), (yaw_a_ekf, A, C_EKF)]),
    (0, 4, "pitch(deg)", (-4.35, 4.35), [-4, -2, 0, 2, 4],
     [(pitch_a_dido, A, C_DIDO), (pitch_a_tlio, A1, C_TLIO), (pitch_a_ukf, A1, C_UKF), (pitch_a_ekf, A, C_EKF)]),
    (0, 5, "roll(deg)", (-4.15, 4.35), [-4, -2, 0, 2, 4],
     [(roll_a_dido, A, C_DIDO), (roll_a_tlio, A, C_TLIO), (roll_a_ukf, A1, C_UKF), (roll_a_ekf, A, C_EKF)]),
    (1, 0, None, (-3.5, 10.2), [0, 5, 10],
     [(xb_gt, B, C_GT), (xb_dido, B, C_DIDO), (xb_tlio, B, C_TLIO), (xb_ronin, B, C_RONIN)]),
    (1, 1, None, (-5.1, 1.35), [-4, -2, 0],
     [(yb_gt, B, C_GT), (yb_dido, B, C_DIDO), (yb_tlio, B, C_TLIO), (yb_ronin, B, C_RONIN)]),
    (1, 2, None, (-2.5, 3.4), [-2, 0, 2],
     [(zb_gt, B, C_GT), (zb_dido, B, C_DIDO), (zb_tlio, B, C_TLIO), (zb_ronin, B, C_RONIN)]),
    (1, 3, None, (-4.15, 1.2), [-4, -2, 0],
     [(yaw_b_dido, B, C_DIDO), (yaw_b_tlio, B, C_TLIO), (yaw_b_ukf, B, C_UKF), (yaw_b_ekf, B, C_EKF)]),
    (1, 4, None, (-4.35, 4.45), [-4, -2, 0, 2, 4],
     [(pitch_b_dido, B, C_DIDO), (pitch_b_tlio, B, C_TLIO), (pitch_b_ukf, B, C_UKF), (pitch_b_ekf, B, C_EKF)]),
    (1, 5, None, (-4.15, 4.35), [-4, -2, 0, 2, 4],
     [(roll_b_dido, B, C_DIDO), (roll_b_tlio, B, C_TLIO), (roll_b_ukf, B, C_UKF), (roll_b_ekf, B, C_EKF)]),
]

xlims = [(0, 164.6), (0, 81.3)]
xticks = [np.arange(0, 161, 20), np.arange(0, 81, 10)]

for col, row, ylabel, ylim, yticks, series in panels:
    x0, x1 = cols_px[col]
    y0, y1 = rows_px[row]
    ax = fig.add_axes([x0 / W, 1 - y1 / H, (x1 - x0) / W, (y1 - y0) / H])
    for vals, step, color in series:
        ax.plot(np.arange(len(vals)) * step, vals, color=color, lw=1.1)
    ax.set_xlim(*xlims[col])
    ax.set_ylim(*ylim)
    ax.set_xticks(xticks[col])
    ax.set_yticks(yticks)
    ax.grid(True, color="#262626", linestyle=(0, (1, 3)), linewidth=0.9)
    ax.tick_params(direction="in", top=True, right=True, length=3, width=0.8,
                   labelsize=8.5, labelcolor=TXT, pad=2)
    for s in ax.spines.values():
        s.set_linewidth(1.3)
        s.set_color("#3a3a3a")
    if row != 5:
        ax.tick_params(labelbottom=False)
    if ylabel:
        ax.set_ylabel(ylabel, fontsize=9, color=TXT, labelpad=1)

fig.text(551 / W, 1 - 585 / H, "t(s)", ha="center", va="center", fontsize=9.5, color=TXT)
fig.text(1093 / W, 1 - 585 / H, "t(s)", ha="center", va="center", fontsize=9.5, color=TXT)
fig.text(290 / W, 1 - 604 / H, "(a)", ha="center", va="center", fontsize=12.5,
         family="Liberation Serif")
fig.text(831 / W, 1 - 604 / H, "(b)", ha="center", va="center", fontsize=12.5,
         family="Liberation Serif")

names = ["GT", "DIDO", "TLIO", "RoNIN", "Dyn-UKF", "Ori-EKF"]
colors = [C_GT, C_DIDO, C_TLIO, C_RONIN, C_UKF, C_EKF]
handles = [Line2D([], [], color=c, lw=1.3) for c in colors]
leg = fig.legend(handles, names, loc="center", bbox_to_anchor=(487.5 / W, 1 - 18 / H),
                 ncol=6, frameon=True, fancybox=False, edgecolor="#333333",
                 prop={"family": "Liberation Serif", "size": 10},
                 handlelength=2.3, handletextpad=0.3, columnspacing=0.7,
                 borderpad=0.35, borderaxespad=0)
leg.get_frame().set_linewidth(1.0)

fig.savefig("out.png", dpi=100)
